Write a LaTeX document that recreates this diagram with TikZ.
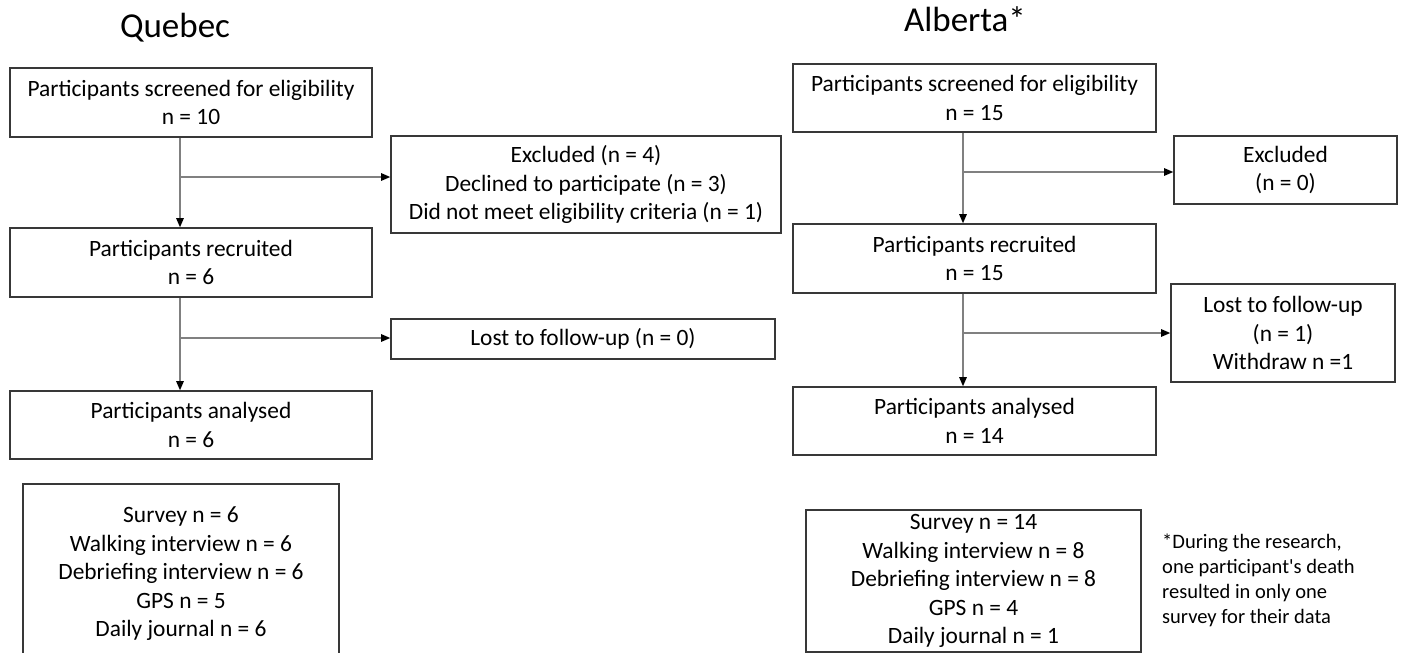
\documentclass[tikz,border=0pt]{standalone}
\usepackage{fontspec}
\setmainfont{Carlito}[Ligatures=TeXOff]
\usetikzlibrary{arrows.meta, positioning}
\tikzset{
  box/.style={draw=black!78, line width=1.6pt, align=center, inner sep=0pt, font=\fontsize{23.4}{28.5}\selectfont},
  flow/.style={box, minimum width=362pt, minimum height=69pt},
  title/.style={font=\fontsize{35}{42}\selectfont, inner sep=0pt, anchor=base},
  note/.style={font=\fontsize{20.5}{25}\selectfont, align=left, inner sep=0pt, anchor=north west},
  arr/.style={-{Triangle[length=9pt, width=7.5pt, color=black]}, draw=black!50, line width=1.2pt},
}
\begin{document}
\begin{tikzpicture}[x=1pt, y=-1pt]
  \useasboundingbox (0,0) rectangle (1401,653);
  \node[title] (qtitle) at (175,37) {Quebec};
  \node[flow] (qscr) at (191,102.5) {Participants screened for eligibility\\n = 10};
  \node[box, minimum width=390pt, minimum height=97pt] (qexc) at (586,184.5) {Excluded (n = 4)\\Declined to participate (n = 3)\\Did not meet eligibility criteria (n = 1)};
  \node[flow] (qrec) at (191,262.5) {Participants recruited\\n = 6};
  \node[box, minimum width=384pt, minimum height=40pt] (qlost) at (583,339) {Lost to follow-up (n = 0)};
  \node[flow, minimum height=68pt] (qana) at (191,425) {Participants analysed\\n = 6};
  \node[box, minimum width=316pt, minimum height=180pt] (qdata) at (181,574) {Survey n = 6\\Walking interview n = 6\\Debriefing interview n = 6\\GPS n = 5\\Daily journal n = 6};
  \coordinate (qb1) at (180,177);
  \coordinate (qb2) at (180,338);
  \draw[arr] (qb1 |- qscr.south) -- (qb1 |- qrec.north);
  \draw[arr] (qb1) -- (qb1 -| qexc.west);
  \draw[arr] (qb2 |- qrec.south) -- (qb2 |- qana.north);
  \draw[arr] (qb2) -- (qb2 -| qlost.west);

  \node[title] (atitle) at (965,31) {Alberta*};
  \node[flow, minimum width=363pt, minimum height=68pt] (ascr) at (974.5,98) {Participants screened for eligibility\\n = 15};
  \node[box, minimum width=223pt, minimum height=68pt] (aexc) at (1285.5,170) {Excluded\\(n = 0)};
  \node[flow, minimum width=363pt] (arec) at (974.5,258.5) {Participants recruited\\n = 15};
  \node[box, minimum width=224pt, minimum height=98pt] (alost) at (1283,333) {Lost to follow-up\\(n = 1)\\Withdraw n =1};
  \node[flow, minimum width=363pt, minimum height=68pt] (aana) at (974.5,421) {Participants analysed\\n = 14};
  \node[box, minimum width=335pt, minimum height=142pt] (adata) at (973.5,581) {Survey n = 14\\Walking interview n = 8\\Debriefing interview n = 8\\GPS n = 4\\Daily journal n = 1};
  \node[note] (anote) at (1162,534) {*During the research,\\one participant's death\\resulted in only one\\survey for their data};
  \coordinate (ab1) at (963,172);
  \coordinate (ab2) at (963,333);
  \draw[arr] (ab1 |- ascr.south) -- (ab1 |- arec.north);
  \draw[arr] (ab1) -- (ab1 -| aexc.west);
  \draw[arr] (ab2 |- arec.south) -- (ab2 |- aana.north);
  \draw[arr] (ab2) -- (ab2 -| alost.west);
\end{tikzpicture}
\end{document}
